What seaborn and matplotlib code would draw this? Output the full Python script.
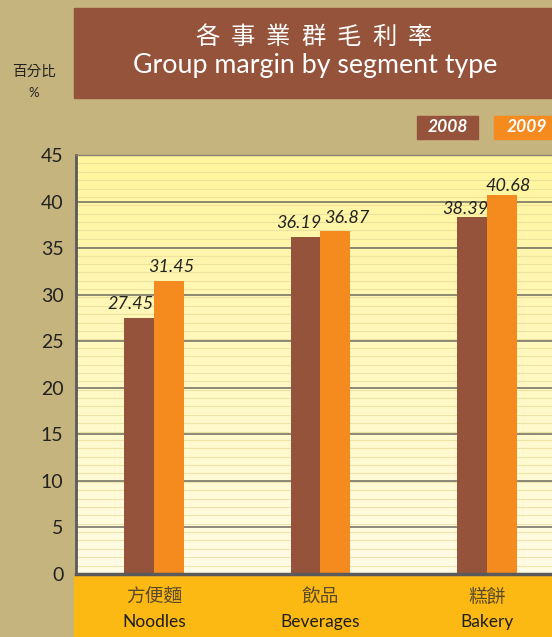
import numpy as np
import pandas as pd
import matplotlib
matplotlib.use("Agg")
import matplotlib.pyplot as plt
from matplotlib.patches import Rectangle
import seaborn as sns

# ---- data ----
categories_zh = ["方便麵", "飲品", "糕餅"]
categories_en = ["Noodles", "Beverages", "Bakery"]
years = ["2008", "2009"]
values_2008 = [27.45, 36.19, 38.39]
values_2009 = [31.45, 36.87, 40.68]
y_ticks = [0, 5, 10, 15, 20, 25, 30, 35, 40, 45]
title_zh = "各事業群毛利率"
title_en = "Group margin by segment type"

# value-label offsets in points (style only)
label_off_2008 = [(-6, 6.5), (-4.7, 6.5), (-5, 2)]
label_off_2009 = [(2, 6.5), (8.3, 5.8), (4.3, 3)]

BROWN = "#94533A"
ORANGE = "#F58A1F"
TAN = "#C6B47E"
BAND = "#FDB913"
CJK = ["Noto Sans CJK TC", "DejaVu Sans"]

df = pd.DataFrame({
    "cat": categories_en * 2,
    "year": [years[0]] * 3 + [years[1]] * 3,
    "val": values_2008 + values_2009,
})

sns.set_theme(style="white")
plt.rcParams["font.family"] = ["Lato", "Noto Sans CJK TC", "DejaVu Sans"]

W, H = 552, 637
fig = plt.figure(figsize=(W / 100, H / 100), dpi=100)
fig.patch.set_facecolor(TAN)

def fx(px):
    return px / W

def fy(py):
    return 1 - py / H

# title box
fig.patches.append(Rectangle((fx(74), fy(98)), fx(552) - fx(74), (98 - 8) / H,
                             transform=fig.transFigure, color=BROWN, zorder=0))
# bottom band
fig.patches.append(Rectangle((fx(74), 0), 1 - fx(74), (637 - 576) / H,
                             transform=fig.transFigure, color=BAND, zorder=0))

# spaced Chinese title
n = len(title_zh)
x0, x1 = 207, 420
for k, ch in enumerate(title_zh):
    fig.text(fx(x0 + (x1 - x0) * k / (n - 1)), fy(37), ch, color="white", fontsize=17.5,
             ha="center", va="center", family=CJK)
fig.text(fx(315), fy(66), title_en, color="white", fontsize=19.3,
         ha="center", va="center")
fig.text(fx(34), fy(72), "百分比", color="#222222", fontsize=10.5, ha="center", va="center",
         family=CJK)
fig.text(fx(34), fy(93), "%", color="#222222", fontsize=9.5, ha="center", va="center")

# legend boxes
fig.patches.append(Rectangle((fx(417), fy(139)), (478 - 417) / W, 23 / H,
                             transform=fig.transFigure, color=BROWN, zorder=1))
fig.patches.append(Rectangle((fx(494), fy(139)), (552 - 494) / W, 23 / H,
                             transform=fig.transFigure, color=ORANGE, zorder=1))
fig.text(fx(448), fy(127.5), years[0], color="white", fontsize=12.5, fontweight="bold",
         fontstyle="italic", ha="center", va="center")
fig.text(fx(527), fy(127.5), years[1], color="white", fontsize=12.5, fontweight="bold",
         fontstyle="italic", ha="center", va="center")

ax = fig.add_axes([fx(76), fy(574), 1 - fx(76), (574 - 155) / H])
ax.set_zorder(2)

xmin, xmax = -0.468, 2.39
ax.set_xlim(xmin, xmax)
ax.set_ylim(0, 45)

# gradient background
grad = np.linspace(0, 1, 256).reshape(-1, 1)
cmap = matplotlib.colors.LinearSegmentedColormap.from_list("bg", ["#FFFCE6", "#FFF59C"])
ax.imshow(grad, extent=[xmin, xmax, 0, 45], origin="lower", aspect="auto",
          cmap=cmap, zorder=0)
for yv in np.arange(0.9, 45, 0.9):
    ax.axhline(yv, color="#E8DC98", lw=0.8, zorder=0.5, alpha=0.75)
for yv in y_ticks[1:-1]:
    ax.axhline(yv, color="#6E6A60", lw=1.1, zorder=1)

sns.barplot(data=df, x="cat", y="val", hue="year", palette=[BROWN, ORANGE],
            width=0.36, saturation=1, ax=ax, legend=False, zorder=2, linewidth=0)
ax.set_xlim(xmin, xmax)
ax.set_ylim(0, 45)

for container, offs in zip(ax.containers, [label_off_2008, label_off_2009]):
    for bar, (dx, dy) in zip(container, offs):
        h = bar.get_height()
        ax.annotate(f"{h:.2f}", (bar.get_x() + bar.get_width() / 2, h),
                    xytext=(dx, dy), textcoords="offset points", ha="center", va="baseline",
                    fontsize=13, fontstyle="italic", color="#222222", zorder=3)

ax.set_yticks(y_ticks)
ax.set_yticklabels([str(t) for t in y_ticks], fontsize=14, color="#222222")
ax.tick_params(axis="y", length=0, pad=9)
ax.set_xticks(range(3))
ax.set_xticklabels([""] * 3)
ax.tick_params(axis="x", length=0)
ax.set_xlabel("")
ax.set_ylabel("")

ax.spines["right"].set_visible(False)
ax.spines["top"].set_color("#8A8270")
ax.spines["top"].set_linewidth(1)
ax.spines["left"].set_color("#5A5A5A")
ax.spines["left"].set_linewidth(2)
ax.spines["bottom"].set_color("#5A5A5A")
ax.spines["bottom"].set_linewidth(2.5)

for i, (zh, en) in enumerate(zip(categories_zh, categories_en)):
    ax.annotate(zh, (i, 0), xytext=(0, -16.5), textcoords="offset points", ha="center",
                va="center", fontsize=13.5, color="#5A4A2A", family=CJK,
                annotation_clip=False)
    ax.annotate(en, (i, 0), xytext=(0, -34.5), textcoords="offset points", ha="center",
                va="center", fontsize=12.5, color="#1E1E1E", annotation_clip=False)

fig.savefig("out.png", dpi=100, facecolor=TAN)
